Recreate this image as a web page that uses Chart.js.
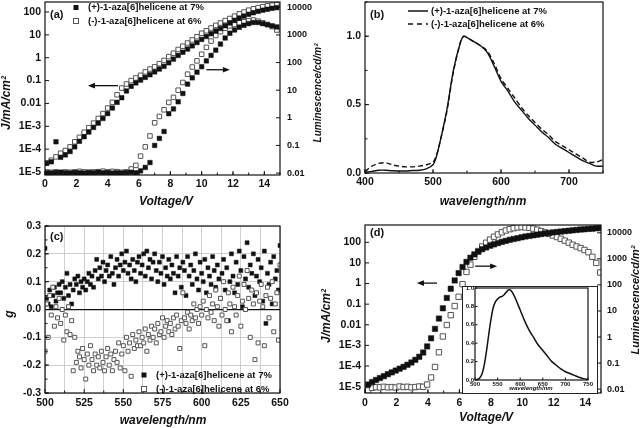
<!DOCTYPE html>
<html>
<head>
<meta charset="utf-8">
<script src="https://cdn.jsdelivr.net/npm/chart.js@4.4.1/dist/chart.umd.min.js"></script>
<style>
  body { margin: 0; background: #fff; }
  #page { position: relative; width: 640px; height: 428px; overflow: hidden; background: #fff; }
  canvas { position: absolute; }
  #insetBox { position: absolute; left: 462px; top: 286px; width: 134px; height: 106px; border: 1px solid #222; background: #fff; }
</style>
</head>
<body>
<div id="page">
  <canvas id="chartA" width="326" height="210" style="left:0;top:0"></canvas>
  <canvas id="chartB" width="320" height="210" style="left:320px;top:0"></canvas>
  <canvas id="chartC" width="320" height="218" style="left:0;top:210px"></canvas>
  <canvas id="chartD" width="320" height="218" style="left:320px;top:210px"></canvas>
  <div id="insetBox"><canvas id="chartInset" width="134" height="106" style="left:0;top:0"></canvas></div>
</div>
<script>
'use strict';

// ---- data ----

let legendPlus = '(+)-1-aza[6]helicene at 7%';
let legendMinus = '(-)-1-aza[6]helicene at 6%';

// log axis ticks
let jTickValues = [1e-5, 1e-4, 1e-3, 0.01, 0.1, 1, 10, 100];
let jTickLabels = ['1E-5', '1E-4', '1E-3', '0.01', '0.1', '1', '10', '100'];
let lumTickValues = [0.01, 0.1, 1, 10, 100, 1000, 10000];
let lumTickLabels = ['0.01', '0.1', '1', '10', '100', '1000', '10000'];
let voltTicks = [0, 2, 4, 6, 8, 10, 12, 14];

// (a) J-V-L
let voltA = [0.1, 0.4, 0.7, 1.0, 1.3, 1.6, 1.9, 2.2, 2.5, 2.8, 3.1, 3.4, 3.7, 4.0, 4.3, 4.6, 4.9, 5.2, 5.5, 5.8,
  6.1, 6.4, 6.7, 7.0, 7.3, 7.6, 7.9, 8.2, 8.5, 8.8, 9.1, 9.4, 9.7, 10.0, 10.3, 10.6, 10.9, 11.2, 11.5, 11.8,
  12.1, 12.4, 12.7, 13.0, 13.3, 13.6, 13.9, 14.2, 14.5, 14.8];
let jPlusA = [2.4e-5, 2.8e-5, 2.1e-4, 4.4e-5, 5.6e-5, 7.9e-5, 1.26e-4, 2.2e-4, 3.5e-4, 5.6e-4,
  8.9e-4, 1.38e-3, 2.2e-3, 3.6e-3, 6.3e-3, 0.0112, 0.0178, 0.035, 0.056, 0.079,
  0.105, 0.138, 0.18, 0.24, 0.32, 0.42, 0.60, 0.87, 1.26, 1.74,
  2.4, 3.3, 4.6, 6.3, 8.5, 11.2, 14.8, 19, 25, 33,
  43, 54, 66, 79, 93, 107, 120, 132, 145, 155];
let jMinusA = [2.5e-5, 3.3e-5, 4.6e-5, 6.6e-5, 8.7e-5, 1.26e-4, 2.1e-4, 3.3e-4, 5.5e-4, 8.7e-4,
  1.38e-3, 2.2e-3, 3.6e-3, 6.3e-3, 0.0112, 0.024, 0.047, 0.071, 0.10, 0.13,
  0.17, 0.24, 0.32, 0.40, 0.55, 0.76, 1.12, 1.58, 2.3, 3.2,
  4.4, 6.0, 8.3, 11.7, 15.1, 20, 26, 33, 42, 52,
  66, 83, 100, 120, 138, 155, 170, 186, 200, 209];
let lumPlusA = [0.0102, 0.010, 0.0105, 0.0107, 0.0102, 0.010, 0.0105, 0.0102, 0.010, 0.0105,
  0.0102, 0.0107, 0.0102, 0.0105, 0.010, 0.0102, 0.010, 0.0105, 0.0107, 0.0102,
  0.012, 0.016, 0.024, 0.10, 0.18, 0.32, 1.41, 2.1, 3.8, 7.6,
  16.6, 28, 45, 71, 115, 182, 282, 468, 776, 1150,
  1510, 1900, 2240, 2570, 2820, 2820, 2570, 2340, 2140, 1950];
let lumMinusA = [0.011, 0.0107, 0.011, 0.0105, 0.011, 0.0107, 0.011, 0.0115, 0.011, 0.0107,
  0.011, 0.0112, 0.0117, 0.011, 0.0115, 0.0112, 0.0107, 0.011, 0.014, 0.019,
  0.041, 0.089, 0.22, 0.66, 1.12, 1.95, 3.6, 5.5, 10, 19,
  38, 69, 115, 200, 355, 600, 955, 1320, 1740, 2140,
  2400, 2750, 3020, 3240, 3470, 3160, 2750, 2400, 2000, 1510];

// (b) EL spectra
let wlB = [400, 410, 420, 430, 440, 450, 460, 470, 480, 490, 500, 505, 510, 520, 530, 540, 545,
  550, 560, 570, 580, 590, 600, 610, 620, 630, 640, 650, 660, 670, 680, 690, 700, 710, 720, 730, 740, 750];
let elPlusB = [0.005, 0.012, 0.02, 0.02, 0.016, 0.015, 0.015, 0.018, 0.02, 0.03, 0.06, 0.12, 0.22, 0.45, 0.75, 0.95, 1.0,
  0.99, 0.96, 0.93, 0.88, 0.78, 0.67, 0.60, 0.52, 0.46, 0.40, 0.35, 0.30, 0.26, 0.21, 0.18, 0.15, 0.12, 0.09, 0.07, 0.05, 0.05];
let elMinusB = [0.01, 0.05, 0.07, 0.075, 0.06, 0.05, 0.045, 0.045, 0.05, 0.06, 0.08, 0.13, 0.22, 0.44, 0.74, 0.95, 1.0,
  0.99, 0.96, 0.93, 0.89, 0.80, 0.69, 0.62, 0.55, 0.48, 0.42, 0.37, 0.32, 0.28, 0.23, 0.20, 0.17, 0.14, 0.11, 0.08, 0.08, 0.10];
let wlTicksB = [400, 500, 600, 700];
let elTicksB = [0, 0.5, 1.0];

// (c) g factor
let wlC = [500, 501, 502, 503, 504, 505, 506, 507, 508, 509, 510, 511, 512, 513, 514, 515, 516, 517, 518, 519,
  520, 521, 522, 523, 524, 525, 526, 527, 528, 529, 530, 531, 532, 533, 534, 535, 536, 537, 538, 539,
  540, 541, 542, 543, 544, 545, 546, 547, 548, 549, 550, 551, 552, 553, 554, 555, 556, 557, 558, 559,
  560, 561, 562, 563, 564, 565, 566, 567, 568, 569, 570, 571, 572, 573, 574, 575, 576, 577, 578, 579,
  580, 581, 582, 583, 584, 585, 586, 587, 588, 589, 590, 591, 592, 593, 594, 595, 596, 597, 598, 599,
  600, 601, 602, 603, 604, 605, 606, 607, 608, 609, 610, 611, 612, 613, 614, 615, 616, 617, 618, 619,
  620, 621, 622, 623, 624, 625, 626, 627, 628, 629, 630, 631, 632, 633, 634, 635, 636, 637, 638, 639,
  640, 641, 642, 643, 644, 645, 646, 647, 648, 649, 650];
let gPlusC = [0.22, 0.04, 0.02, 0.07, 0.01, 0.05, 0.08, 0.03, 0.06, 0.09,
  0.06, 0.10, 0.04, 0.08, 0.13, 0.05, 0.09, 0.02, 0.07, 0.11,
  0.09, 0.12, 0.06, 0.10, 0.08, 0.11, 0.07, 0.10, 0.13, 0.09,
  0.12, 0.08, 0.14, 0.18, 0.11, 0.15, 0.12, 0.17, 0.10, 0.14,
  0.16, 0.12, 0.19, 0.13, 0.09, 0.15, 0.18, 0.12, 0.16, 0.20,
  0.14, 0.17, 0.21, 0.13, 0.16, 0.11, 0.18, 0.14, 0.10, 0.17,
  0.19, 0.13, 0.16, 0.20, 0.12, 0.21, 0.15, 0.18, 0.11, 0.17,
  0.20, 0.14, 0.10, 0.17, 0.13, 0.19, 0.09, 0.15, 0.12, 0.18,
  0.11, 0.16, 0.13, 0.06, 0.19, 0.12, 0.15, 0.08, 0.17, 0.14,
  0.05, 0.19, 0.12, 0.16, 0.09, 0.14, 0.20, 0.11, 0.07, 0.17,
  0.13, 0.10, 0.18, 0.06, 0.15, 0.12, 0.09, 0.19, 0.14, 0.08,
  0.16, 0.11, 0.04, 0.13, 0.18, 0.07, 0.15, -0.04, 0.10, 0.20,
  0.12, 0.06, 0.17, 0.09, 0.21, 0.14, 0.01, 0.19, 0.11, 0.24,
  0.08, 0.16, 0.13, 0.20, 0.05, 0.12, 0.18, 0.10, 0.15, 0.03,
  0.21, -0.05, 0.13, 0.09, 0.17, 0.02, 0.19, 0.11, 0.14, 0.07,
  0.23];
let gMinusC = [-0.15, 0.02, -0.10, 0.05, -0.02, 0.08, -0.06, 0.01, -0.03, 0.04,
  -0.05, 0.00, -0.11, -0.02, -0.08, 0.01, -0.09, -0.04, -0.22, -0.10,
  -0.19, -0.15, -0.17, -0.21, -0.14, -0.18, -0.25, -0.16, -0.20, -0.13,
  -0.18, -0.22, -0.16, -0.20, -0.17, -0.21, -0.15, -0.19, -0.22, -0.17,
  -0.14, -0.20, -0.16, -0.22, -0.18, -0.15, -0.19, -0.12, -0.21, -0.16,
  -0.13, -0.22, -0.10, -0.15, -0.12, -0.24, -0.09, -0.14, -0.11, -0.13,
  -0.08, -0.13, -0.10, -0.12, -0.07, -0.15, -0.09, -0.11, -0.06, -0.10,
  -0.07, -0.12, -0.05, -0.09, -0.08, -0.03, -0.10, -0.06, -0.04, -0.08,
  -0.05, -0.09, -0.03, -0.07, -0.02, -0.06, -0.14, -0.04, 0.06, -0.03,
  -0.05, -0.01, -0.07, -0.02, -0.04, 0.02, -0.03, 0.00, -0.05, 0.01,
  -0.02, 0.03, -0.13, 0.00, -0.03, 0.05, -0.01, 0.02, -0.04, 0.07,
  0.01, -0.06, 0.04, -0.02, 0.10, 0.00, -0.04, 0.06, 0.02, -0.08,
  0.08, 0.01, -0.02, 0.05, 0.12, -0.06, 0.03, 0.09, 0.00, 0.14,
  0.04, -0.10, 0.07, 0.02, -0.18, 0.06, -0.12, 0.03, 0.09, 0.01,
  -0.13, 0.05, 0.08, -0.03, 0.04, 0.10, -0.08, 0.02, 0.06, -0.11,
  0.16];
let wlTicksC = [500, 525, 550, 575, 600, 625, 650];
let gTicksC = [-0.3, -0.2, -0.1, 0, 0.1, 0.2, 0.3];

// (d) J-V-L of the device, plus inset spectrum
let voltD = [0.2, 0.45, 0.7, 0.95, 1.2, 1.45, 1.7, 1.95, 2.2, 2.45, 2.7, 2.95, 3.2, 3.45, 3.7, 3.95, 4.2, 4.45, 4.7, 4.95,
  5.2, 5.45, 5.7, 5.95, 6.2, 6.45, 6.7, 6.95, 7.2, 7.45, 7.7, 7.95, 8.2, 8.45, 8.7, 8.95, 9.2, 9.45, 9.7, 9.95,
  10.2, 10.45, 10.7, 10.95, 11.2, 11.45, 11.7, 11.95, 12.2, 12.45, 12.7, 12.95, 13.2, 13.45, 13.7, 13.95, 14.2, 14.45, 14.7, 14.95];
let jD = [1.26e-5, 1.66e-5, 2.1e-5, 2.6e-5, 3.2e-5, 4.0e-5, 4.9e-5, 6.0e-5, 7.4e-5, 9.1e-5,
  1.15e-4, 1.48e-4, 2.0e-4, 2.8e-4, 4.5e-4, 8.9e-4, 2.2e-3, 6.3e-3, 0.02, 0.063,
  0.2, 0.56, 1.41, 3.2, 6.3, 11.2, 17.8, 26, 35, 46,
  56, 68, 79, 91, 105, 117, 132, 145, 158, 174,
  191, 204, 219, 234, 251, 269, 282, 302, 316, 331,
  347, 363, 380, 398, 417, 427, 447, 457, 479, 490];
let lumD = [0.0089, 0.0112, 0.012, 0.0117, 0.0123, 0.0117, 0.012, 0.0115, 0.0126, 0.012,
  0.0123, 0.0117, 0.012, 0.0126, 0.0123, 0.015, 0.028, 0.071, 0.26, 1.05,
  2.9, 6.9, 15.5, 35, 107, 316, 600, 1200, 2000, 3000,
  4170, 5500, 7100, 8700, 10500, 12300, 13800, 15100, 16200, 16600,
  16200, 15500, 14500, 13200, 11700, 10500, 9100, 7900, 6900, 5900,
  5000, 4200, 3500, 3000, 2600, 2200, 1800, 1200, 700, 300];
let wlInset = [500, 505, 510, 515, 520, 525, 530, 535, 540, 545, 550, 555, 560, 565, 570, 575, 580, 585, 590,
  600, 610, 620, 630, 640, 650, 660, 670, 680, 690, 700, 710, 720, 730, 740, 750];
let elInset = [0, 0.005, 0.02, 0.06, 0.15, 0.3, 0.48, 0.65, 0.78, 0.85, 0.88, 0.9, 0.91, 0.93, 0.96, 0.98, 0.97, 0.93, 0.88,
  0.76, 0.64, 0.54, 0.46, 0.38, 0.32, 0.26, 0.2, 0.16, 0.12, 0.09, 0.07, 0.05, 0.03, 0.015, 0.005];
let wlTicksInset = [500, 550, 600, 650, 700, 750];
let elTicksInset = [0, 0.2, 0.4, 0.6, 0.8, 1.0];

// ---- styling helpers ----

const FONT = "'Liberation Sans', Arial, sans-serif";
Chart.defaults.color = '#111';
Chart.defaults.font.family = FONT;

function toPoints(xs, ys) {
  return xs.map((x, i) => ({ x: x, y: ys[i] }));
}

// fix an axis' thickness so the plot box lands where the figure has it,
// and stop the end labels from pushing the box inwards
function fixedSize(size) {
  return function (scale) {
    if (scale.isHorizontal()) scale.height = size;
    else scale.width = size;
    scale.paddingTop = 0;
    scale.paddingBottom = 0;
    scale.paddingLeft = 0;
    scale.paddingRight = 0;
  };
}

function fixedTicks(values, minorStep) {
  return function (scale) {
    let ticks = values.map(v => ({ value: v }));
    if (minorStep) {
      for (let i = 0; i < values.length - 1; i++) {
        ticks.push({ value: values[i] + minorStep });
      }
      ticks.sort((a, b) => a.value - b.value);
    }
    scale.ticks = ticks;
  };
}

function tickOpts(size, labelFn, pad) {
  return {
    font: { size: size, weight: 'bold', family: FONT },
    color: '#111',
    padding: pad,
    autoSkip: false,
    maxRotation: 0,
    callback: labelFn
  };
}

const noGrid = { display: false, drawTicks: false };

function filledSquares(label, data, axis, r) {
  return {
    label: label, data: data, yAxisID: axis,
    pointStyle: 'rect', pointRadius: r, pointBorderWidth: 0.5,
    pointBackgroundColor: '#111', pointBorderColor: '#111'
  };
}

function openSquares(label, data, axis, r) {
  return {
    label: label, data: data, yAxisID: axis,
    pointStyle: 'rect', pointRadius: r, pointBorderWidth: 1,
    pointBackgroundColor: '#fff', pointBorderColor: '#555'
  };
}

// box around the plot with inward tick marks
function frameDecor(minor) {
  return {
    id: 'frameDecor',
    afterDatasetsDraw(chart) {
      const ctx = chart.ctx;
      const a = chart.chartArea;
      ctx.save();
      ctx.strokeStyle = '#111';
      ctx.lineWidth = 1;
      Object.values(chart.scales).forEach(scale => {
        let marks = scale.ticks.map(t => ({ v: t.value, len: t.label === '' ? 2.5 : minor.len || 4 }));
        let step = minor[scale.id];
        if (step) {
          for (let v = scale.min; v <= scale.max + 1e-9; v += step) marks.push({ v: v, len: 2.5 });
        }
        marks.forEach(m => {
          const p = scale.getPixelForValue(m.v);
          ctx.beginPath();
          if (scale.axis === 'x') {
            ctx.moveTo(p, a.bottom); ctx.lineTo(p, a.bottom - m.len);
          } else if (scale.position === 'left') {
            ctx.moveTo(a.left, p); ctx.lineTo(a.left + m.len, p);
          } else {
            ctx.moveTo(a.right, p); ctx.lineTo(a.right - m.len, p);
          }
          ctx.stroke();
        });
      });
      ctx.lineWidth = 1.2;
      ctx.strokeRect(a.left, a.top, a.right - a.left, a.bottom - a.top);
      ctx.restore();
    }
  };
}

// panel letters, axis titles, legends, arrows
function notesDecor(cfg) {
  return {
    id: 'notesDecor',
    afterDraw(chart) {
      const ctx = chart.ctx;
      ctx.save();
      ctx.fillStyle = '#111';
      ctx.strokeStyle = '#111';
      ctx.textBaseline = 'middle';
      (cfg.texts || []).forEach(t => {
        ctx.save();
        ctx.font = t.font;
        ctx.textAlign = t.align || 'left';
        ctx.translate(t.x, t.y);
        if (t.rot) ctx.rotate(t.rot * Math.PI / 180);
        ctx.fillText(t.text, 0, 0);
        ctx.restore();
      });
      (cfg.legend || []).forEach(l => {
        ctx.save();
        ctx.lineWidth = 1;
        if (l.kind === 'fill') {
          ctx.fillStyle = '#111';
          ctx.fillRect(l.x - 2.5, l.y - 2.5, 5, 5);
        } else if (l.kind === 'open') {
          ctx.fillStyle = '#fff';
          ctx.strokeStyle = '#555';
          ctx.fillRect(l.x - 2.5, l.y - 2.5, 5, 5);
          ctx.strokeRect(l.x - 2.5, l.y - 2.5, 5, 5);
        } else {
          ctx.lineWidth = 1.5;
          if (l.kind === 'dash') ctx.setLineDash([5, 4]);
          ctx.beginPath();
          ctx.moveTo(l.x - 10, l.y); ctx.lineTo(l.x + 10, l.y);
          ctx.stroke();
        }
        ctx.restore();
        ctx.font = cfg.legendFont;
        ctx.textAlign = 'left';
        ctx.fillText(l.text, l.x + l.gap, l.y);
      });
      (cfg.arrows || []).forEach(ar => {
        const xs = chart.scales[ar.xAxis];
        const ys = chart.scales[ar.yAxis];
        const x1 = xs.getPixelForValue(ar.from[0]);
        const x2 = xs.getPixelForValue(ar.to[0]);
        const y = ys.getPixelForValue(ar.at);
        const dir = Math.sign(x2 - x1);
        ctx.lineWidth = 1.3;
        ctx.beginPath();
        ctx.moveTo(x1, y); ctx.lineTo(x2 - dir * 4, y);
        ctx.stroke();
        ctx.beginPath();
        ctx.moveTo(x2, y);
        ctx.lineTo(x2 - dir * 7, y - 2.8);
        ctx.lineTo(x2 - dir * 7, y + 2.8);
        ctx.closePath();
        ctx.fill();
      });
      ctx.restore();
    }
  };
}

const titleFont = "italic bold 12px " + FONT;
const letterFont = "bold 11px " + FONT;
const legendFont = "bold 9.5px " + FONT;
const TICK = 10.5;
const RTICK = 9;

function logLabel(labels) {
  return (v, i) => labels[i];
}

function baseOptions(padding) {
  return {
    responsive: false,
    animation: false,
    layout: { padding: padding, autoPadding: false },
    plugins: { legend: { display: false }, tooltip: { enabled: false } }
  };
}

// ---- (a) ----
let optsA = baseOptions({ top: 2, right: 0, left: 0, bottom: 0 });
optsA.scales = {
  x: {
    type: 'linear', position: 'bottom', min: 0, max: 15,
    afterFit: fixedSize(35), afterBuildTicks: fixedTicks(voltTicks),
    ticks: tickOpts(TICK, v => String(v), 3),
    grid: noGrid, border: { display: false }
  },
  yJ: {
    type: 'logarithmic', position: 'left', min: 7.4e-6, max: 274,
    afterFit: fixedSize(45), afterBuildTicks: fixedTicks(jTickValues),
    ticks: tickOpts(TICK, logLabel(jTickLabels), 4),
    grid: noGrid, border: { display: false }
  },
  yL: {
    type: 'logarithmic', position: 'right', min: 0.0085, max: 15600,
    afterFit: fixedSize(46), afterBuildTicks: fixedTicks(lumTickValues),
    ticks: tickOpts(RTICK, logLabel(lumTickLabels), 7),
    grid: noGrid, border: { display: false }
  }
};
new Chart(document.getElementById('chartA'), {
  type: 'scatter',
  data: {
    datasets: [
      filledSquares(legendPlus, toPoints(voltA, jPlusA), 'yJ', 3.2),
      openSquares(legendMinus, toPoints(voltA, jMinusA), 'yJ', 3.2),
      filledSquares(legendPlus, toPoints(voltA, lumPlusA), 'yL', 3.2),
      openSquares(legendMinus, toPoints(voltA, lumMinusA), 'yL', 3.2)
    ]
  },
  options: optsA,
  plugins: [
    frameDecor({ x: 1 }),
    notesDecor({
      legendFont: legendFont,
      texts: [
        { text: '(a)', x: 50, y: 15, font: letterFont },
        { text: 'Voltage/V', x: 166, y: 202, font: titleFont, align: 'center' },
        { text: 'J/mA/cm²', x: 7, y: 103, font: titleFont, align: 'center', rot: -90 },
        { text: 'Luminescence/cd/m²', x: 318, y: 93, font: "italic bold 10px " + FONT, align: 'center', rot: -90 }
      ],
      legend: [
        { kind: 'fill', x: 76, y: 7.5, gap: 12, text: legendPlus },
        { kind: 'open', x: 76, y: 21, gap: 12, text: legendMinus }
      ],
      arrows: [
        { xAxis: 'x', yAxis: 'yJ', from: [4.66], to: [2.74], at: 0.06 },
        { xAxis: 'x', yAxis: 'yL', from: [10.3], to: [11.8], at: 55 }
      ]
    })
  ]
});

// ---- (b) ----
let optsB = baseOptions({ top: 2, right: 37, left: 0, bottom: 0 });
optsB.scales = {
  x: {
    type: 'linear', position: 'bottom', min: 400, max: 750,
    afterFit: fixedSize(37), afterBuildTicks: fixedTicks(wlTicksB),
    ticks: tickOpts(TICK, v => String(v), 3),
    grid: noGrid, border: { display: false }
  },
  y: {
    type: 'linear', position: 'left', min: 0, max: 1.25,
    afterFit: fixedSize(45), afterBuildTicks: fixedTicks(elTicksB),
    ticks: tickOpts(TICK, v => v.toFixed(1), 4),
    grid: noGrid, border: { display: false }
  }
};
new Chart(document.getElementById('chartB'), {
  type: 'scatter',
  data: {
    datasets: [
      { label: legendPlus, data: toPoints(wlB, elPlusB), showLine: true, pointRadius: 0,
        borderColor: '#111', borderWidth: 1.4, tension: 0.3 },
      { label: legendMinus, data: toPoints(wlB, elMinusB), showLine: true, pointRadius: 0,
        borderColor: '#111', borderWidth: 1.4, borderDash: [5, 3], tension: 0.3 }
    ]
  },
  options: optsB,
  plugins: [
    frameDecor({ x: 50, y: 0.25 }),
    notesDecor({
      legendFont: legendFont,
      texts: [
        { text: '(b)', x: 50, y: 15, font: letterFont },
        { text: 'wavelength/nm', x: 163, y: 202, font: titleFont, align: 'center' }
      ],
      legend: [
        { kind: 'solid', x: 98, y: 11, gap: 13, text: legendPlus },
        { kind: 'dash', x: 98, y: 24, gap: 13, text: legendMinus }
      ]
    })
  ]
});

// ---- (c) ----
let optsC = baseOptions({ top: 16, right: 40, left: 0, bottom: 0 });
const gridGrey = '#c4c4c4';
optsC.scales = {
  x: {
    type: 'linear', position: 'bottom', min: 500, max: 650,
    afterFit: fixedSize(35), afterBuildTicks: fixedTicks(wlTicksC, 12.5),
    ticks: tickOpts(TICK, v => (wlTicksC.includes(v) ? String(v) : ''), 4),
    grid: { color: gridGrey, lineWidth: 0.8, drawTicks: false }, border: { display: false }
  },
  y: {
    type: 'linear', position: 'left', min: -0.3, max: 0.3,
    afterFit: fixedSize(45), afterBuildTicks: fixedTicks(gTicksC),
    ticks: tickOpts(TICK, v => (Math.abs(v) < 1e-9 ? 0 : v).toFixed(1), 4),
    grid: {
      drawTicks: false,
      color: c => (c.tick && Math.abs(c.tick.value) < 1e-9 ? '#111' : gridGrey),
      lineWidth: c => (c.tick && Math.abs(c.tick.value) < 1e-9 ? 1.2 : 0.8)
    },
    border: { display: false }
  }
};
new Chart(document.getElementById('chartC'), {
  type: 'scatter',
  data: {
    datasets: [
      openSquares(legendMinus, toPoints(wlC, gMinusC), 'y', 2.8),
      filledSquares(legendPlus, toPoints(wlC, gPlusC), 'y', 2.8)
    ]
  },
  options: optsC,
  plugins: [
    frameDecor({ y: 0.05 }),
    notesDecor({
      legendFont: legendFont,
      texts: [
        { text: '(c)', x: 50, y: 27, font: letterFont },
        { text: 'wavelength/nm', x: 163, y: 211, font: titleFont, align: 'center' },
        { text: 'g', x: 10, y: 104, font: titleFont, align: 'center', rot: -90 }
      ],
      legend: [
        { kind: 'fill', x: 144, y: 165, gap: 12, text: legendPlus },
        { kind: 'open', x: 144, y: 179, gap: 12, text: legendMinus }
      ]
    })
  ]
});

// ---- (d) ----
let optsD = baseOptions({ top: 15, right: 0, left: 0, bottom: 0 });
optsD.scales = {
  x: {
    type: 'linear', position: 'bottom', min: 0, max: 15,
    afterFit: fixedSize(35), afterBuildTicks: fixedTicks(voltTicks),
    ticks: tickOpts(TICK, v => String(v), 4),
    grid: noGrid, border: { display: false }
  },
  yJ: {
    type: 'logarithmic', position: 'left', min: 4.9e-6, max: 690,
    afterFit: fixedSize(45), afterBuildTicks: fixedTicks(jTickValues),
    ticks: tickOpts(TICK, logLabel(jTickLabels), 4),
    grid: noGrid, border: { display: false }
  },
  yL: {
    type: 'logarithmic', position: 'right', min: 0.0071, max: 20000,
    afterFit: fixedSize(39), afterBuildTicks: fixedTicks(lumTickValues),
    ticks: tickOpts(RTICK, logLabel(lumTickLabels), 6),
    grid: noGrid, border: { display: false }
  }
};
new Chart(document.getElementById('chartD'), {
  type: 'scatter',
  data: {
    datasets: [
      filledSquares('J', toPoints(voltD, jD), 'yJ', 3.8),
      openSquares('Luminescence', toPoints(voltD, lumD), 'yL', 3.8)
    ]
  },
  options: optsD,
  plugins: [
    frameDecor({ x: 1 }),
    notesDecor({
      legendFont: legendFont,
      texts: [
        { text: '(d)', x: 50, y: 23, font: letterFont },
        { text: 'Voltage/V', x: 166, y: 208, font: titleFont, align: 'center' },
        { text: 'J/mA/cm²', x: 7, y: 106, font: titleFont, align: 'center', rot: -90 },
        { text: 'Luminescence/cd/m²', x: 316, y: 90, font: "italic bold 11px " + FONT, align: 'center', rot: -90 }
      ],
      arrows: [
        { xAxis: 'x', yAxis: 'yJ', from: [4.58], to: [3.3], at: 1.05 },
        { xAxis: 'x', yAxis: 'yL', from: [7.0], to: [8.4], at: 525 }
      ]
    })
  ]
});

// ---- inset of (d) ----
let optsIn = baseOptions({ top: 1, right: 9, left: 0, bottom: 0 });
optsIn.scales = {
  x: {
    type: 'linear', position: 'bottom', min: 500, max: 750,
    afterFit: fixedSize(13), afterBuildTicks: fixedTicks(wlTicksInset),
    ticks: tickOpts(6, v => String(v), 1),
    grid: noGrid, border: { display: false }
  },
  y: {
    type: 'linear', position: 'left', min: 0, max: 1.0,
    afterFit: fixedSize(12), afterBuildTicks: fixedTicks(elTicksInset),
    ticks: tickOpts(6, v => v.toFixed(1), 1),
    grid: noGrid, border: { display: false }
  }
};
new Chart(document.getElementById('chartInset'), {
  type: 'scatter',
  data: {
    datasets: [
      { label: 'EL', data: toPoints(wlInset, elInset), showLine: true, pointRadius: 0,
        borderColor: '#111', borderWidth: 1.5, tension: 0.3 }
    ]
  },
  options: optsIn,
  plugins: [
    frameDecor({ len: 2.5 }),
    notesDecor({
      texts: [
        { text: 'wavelength/nm', x: 68, y: 101, font: "italic bold 6px " + FONT, align: 'center' }
      ]
    })
  ]
});
</script>
</body>
</html>
